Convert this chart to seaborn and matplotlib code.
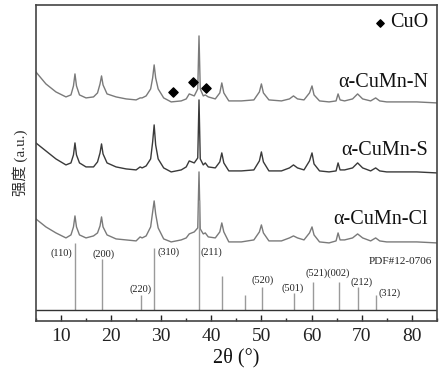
"""XRD patterns of alpha-CuMn samples with PDF#12-0706 reference sticks
"""

import matplotlib
matplotlib.use('Agg')
import matplotlib.pyplot as plt
from matplotlib.ticker import MultipleLocator
import seaborn as sns
import pandas as pd

# 2theta grid (deg)
two_theta = [5, 7, 9, 11, 12.0, 12.5, 12.8, 13.1, 13.7, 15, 16.5, 17.3, 17.8, 18.1, 18.4,
             19.2, 21, 23, 25, 25.8, 26.2, 27, 27.9, 28.3, 28.6, 28.9, 29.4, 30.5, 32, 34,
             35.0, 35.6, 36.6, 37.3, 37.55, 37.8, 38.4, 38.8, 39.4, 40.8, 41.7, 42.1, 42.5,
             43.5, 46, 48.5, 49.6, 50.0, 50.4, 51.5, 54, 55.6, 56.4, 57.2, 58.5, 59.6, 60.1,
             60.5, 61.6, 63.5, 64.9, 65.3, 65.7, 66.6, 68.2, 69.2, 70.2, 71.8, 72.8, 73.6,
             75, 78, 81, 85]

# intensities (a.u.) above each pattern's own baseline
int_n = [31, 19, 11, 6, 8, 17, 29, 17, 8, 5, 6, 10, 19, 27, 18,
         9, 6, 4, 3, 5, 5, 7, 14, 25, 38, 25, 14, 5, 1, 2,
         4, 9, 7, 14, 67, 14, 7, 8, 6, 4, 10, 20, 10,
         2, 2, 3, 11, 19, 10, 3, 2, 4, 7, 4, 3, 10, 17,
         8, 2, 1, 2, 9, 3, 2, 4, 9, 4, 2, 5, 2,
         1, 1, 1, 0]
int_s = [30, 22, 14, 8, 10, 18, 30, 18, 10, 6, 6, 11, 20, 29, 19,
         10, 6, 4, 3, 6, 5, 7, 14, 31, 48, 28, 14, 5, 1, 3,
         6, 12, 10, 15, 73, 14, 8, 10, 6, 5, 11, 20, 10,
         2, 2, 3, 12, 21, 11, 2, 2, 5, 8, 5, 3, 12, 20,
         9, 2, 1, 2, 10, 3, 3, 5, 10, 5, 2, 5, 2,
         1, 1, 1, 0]
int_cl = [24, 16, 10, 5, 8, 16, 27, 16, 8, 5, 7, 10, 17, 26, 16,
          8, 4, 3, 2, 6, 5, 7, 16, 31, 42, 29, 15, 4, 1, 3,
          5, 9, 11, 15, 71, 14, 9, 10, 6, 5, 11, 20, 11,
          1, 1, 3, 11, 18, 10, 2, 2, 5, 7, 5, 3, 10, 16,
          8, 1, 0, 2, 10, 3, 3, 5, 9, 5, 2, 5, 2,
          1, 1, 1, 0]

samples = ['α-CuMn-N', 'α-CuMn-S', 'α-CuMn-Cl']
offsets = [218, 148, 78]
colors = ['#7a7a7a', '#3a3a3a', '#7a7a7a']

# PDF#12-0706 reference lines
ref_pos = [12.8, 18.1, 25.9, 28.6, 37.6, 42.2, 46.7, 50.2, 56.5, 60.2, 65.4, 69.2, 72.8]
ref_height = [67, 51, 15, 62, 110, 34, 15, 23, 17, 28, 28, 23, 15]
ref_base = 11

hkl_labels = ['(110)', '(200)', '(220)', '(310)', '(211)', '(520)', '(501)',
              '(521)(002)', '(212)', '(312)']
hkl_x = [10.1, 18.5, 25.8, 31.5, 40.1, 50.3, 56.3, 63.2, 70.0, 75.6]
hkl_y = [68, 67, 32, 69, 69, 41, 33, 48, 39, 28]

cuo_x = [32.4, 36.3, 38.9]
cuo_y = [229, 239, 233]

sns.set_style('ticks')
plt.rcParams['font.family'] = ['Liberation Serif', 'Noto Sans CJK SC']
plt.rcParams['mathtext.fontset'] = 'stix'

fig = plt.figure(figsize=(4.43, 3.78), dpi=100)
ax = fig.add_axes([0.081, 0.151, 0.905, 0.836])

frames = []
for name, vals, off in zip(samples, [int_n, int_s, int_cl], offsets):
    frames.append(pd.DataFrame({'two_theta': two_theta,
                                'intensity': [v + off for v in vals],
                                'sample': name}))
df = pd.concat(frames, ignore_index=True)

sns.lineplot(data=df, x='two_theta', y='intensity', hue='sample', palette=colors,
             linewidth=1.0, legend=False, ax=ax, sort=False, estimator=None)

# reference sticks
ax.vlines(ref_pos, ref_base, [ref_base + h for h in ref_height], color='#9a9a9a', lw=1.0)
ax.axhline(ref_base, color='#333333', lw=1.0)

for lab, x, y in zip(hkl_labels, hkl_x, hkl_y):
    ax.text(x, y, lab, fontsize=7.5, ha='center', va='center', color='#222222')
ax.text(84.1, 59, 'PDF#12-0706', fontsize=8, ha='right', va='center', color='#222222')

# sample labels
for name, y in zip(samples, [238, 170, 101]):
    ax.text(83.3, y, name, fontsize=14.5, ha='right', va='center', color='#111111')

# CuO markers
ax.scatter(cuo_x, cuo_y, marker='D', s=22, color='black', zorder=5)
ax.scatter([73.6], [298], marker='D', s=14, color='black', zorder=5)
ax.text(83.3, 298, 'CuO', fontsize=14.5, ha='right', va='center', color='#111111')

ax.set_xlim(5, 85)
ax.set_ylim(0, 316)
ax.set_yticks([])
ax.xaxis.set_major_locator(MultipleLocator(10))
ax.xaxis.set_minor_locator(MultipleLocator(5))
ax.tick_params(axis='x', which='major', direction='in', length=4, width=1,
               labelsize=14, pad=5, colors='#222222')
ax.tick_params(axis='x', which='minor', direction='in', length=2, width=1)
ax.set_xlabel('2θ (°)', fontsize=14.5, labelpad=2, color='#111111')
ax.set_ylabel('强度 (a.u.)', fontsize=11, labelpad=6, color='#333333')
for sp in ax.spines.values():
    sp.set_color('#444444')
    sp.set_linewidth(1.2)

fig.savefig('out.png', dpi=100)
